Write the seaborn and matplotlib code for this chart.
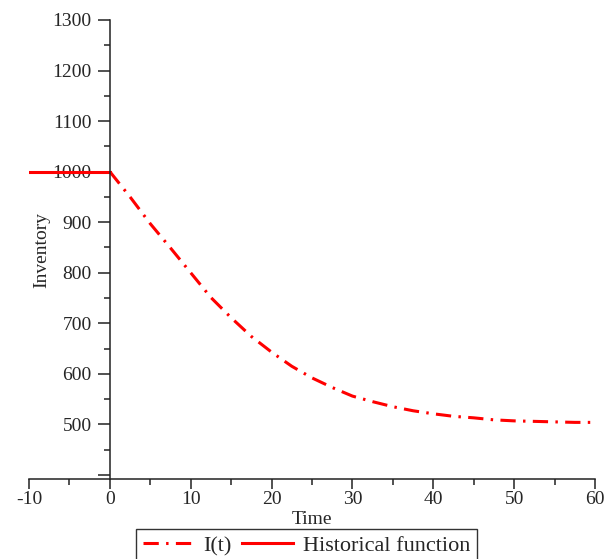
import numpy as np
import pandas as pd
import matplotlib
matplotlib.use("Agg")
import matplotlib.pyplot as plt
from matplotlib.ticker import FixedLocator, MultipleLocator
import seaborn as sns

# Inventory level I(t) after t = 0
t_values = [0, 2.5, 5, 7.5, 10, 12.5, 15, 17.5, 20, 22.5, 25, 27.5, 30,
            32.5, 35, 37.5, 40, 42.5, 45, 47.5, 50, 52.5, 55, 57.5, 60]
inventory = [1000, 950, 897, 849, 800, 751, 711, 674, 643, 615, 592, 573, 556,
             545, 535, 527, 521, 516, 513, 509, 507, 506, 505, 504, 504]

# Historical (initial) function for t <= 0
hist_t = [-10, 0]
hist_inventory = [1000, 1000]

x_ticks = [-10, 0, 10, 20, 30, 40, 50, 60]
x_tick_labels = ["-10", "0", "10", "20", "30", "40", "50", "60"]
y_ticks = [400, 500, 600, 700, 800, 900, 1000, 1100, 1200, 1300]
y_tick_labels = ["", "500", "600", "700", "800", "900", "1000", "1100", "1200", "1300"]

sns.set_style("white")
plt.rcParams["font.family"] = ["Liberation Serif", "DejaVu Serif"]

fig = plt.figure(figsize=(6.14, 5.59), dpi=100)
ax = fig.add_axes([29 / 614, 1 - 479 / 559, 566 / 614, 459 / 559])

df_i = pd.DataFrame({"Time": t_values, "Inventory": inventory})
df_h = pd.DataFrame({"Time": hist_t, "Inventory": hist_inventory})

sns.lineplot(data=df_i, x="Time", y="Inventory", ax=ax, color="#ff0000",
             linewidth=2.2, linestyle=(0, (5, 2.4, 0.8, 2.4)),
             errorbar=None, label="I(t)")
sns.lineplot(data=df_h, x="Time", y="Inventory", ax=ax, color="#ff0000",
             linewidth=2.2, errorbar=None, label="Historical function",
             solid_capstyle="projecting")

ax.set_xlim(-10, 60)
ax.set_ylim(392, 1300)

# Maple-style axes: vertical axis crosses at t = 0
for s in ("top", "right"):
    ax.spines[s].set_visible(False)
ax.spines["left"].set_position(("data", 0))
for s in ("left", "bottom"):
    ax.spines[s].set_linewidth(1.1)
    ax.spines[s].set_color("#222222")

ax.xaxis.set_major_locator(FixedLocator(x_ticks))
ax.set_xticklabels(x_tick_labels)
ax.xaxis.set_minor_locator(MultipleLocator(5))
ax.yaxis.set_major_locator(FixedLocator(y_ticks))
ax.set_yticklabels(y_tick_labels)
ax.yaxis.set_minor_locator(MultipleLocator(50))

ax.tick_params(axis="x", which="major", direction="out", length=7, width=1.1,
               color="#222222", labelsize=14, pad=2, bottom=True)
ax.tick_params(axis="x", which="minor", direction="out", length=4, width=1.1,
               color="#222222", bottom=True)
ax.tick_params(axis="y", which="major", direction="out", length=9, width=1.1,
               color="#222222", labelsize=14, pad=4, left=True)
ax.tick_params(axis="y", which="minor", direction="out", length=4, width=1.1,
               color="#222222", left=True)

ax.set_xlabel("Time", fontsize=14)
ax.xaxis.label.set_va("center")
ax.xaxis.set_label_coords(0.5, -40 / 459)
ax.set_ylabel("Inventory", fontsize=14)
ax.yaxis.label.set_va("center")
ax.yaxis.set_label_coords(13 / 566, 0.5)

leg = ax.legend(loc="upper center", bbox_to_anchor=(306.5 / 614, 30 / 559),
                bbox_transform=fig.transFigure, ncol=2, fontsize=16,
                frameon=True, fancybox=False, borderpad=0.3,
                handlelength=2.3, handletextpad=0.45, columnspacing=0.45,
                borderaxespad=0)
leg.get_frame().set_edgecolor("black")
leg.get_frame().set_linewidth(1.0)

fig.savefig("out.png", dpi=100)
